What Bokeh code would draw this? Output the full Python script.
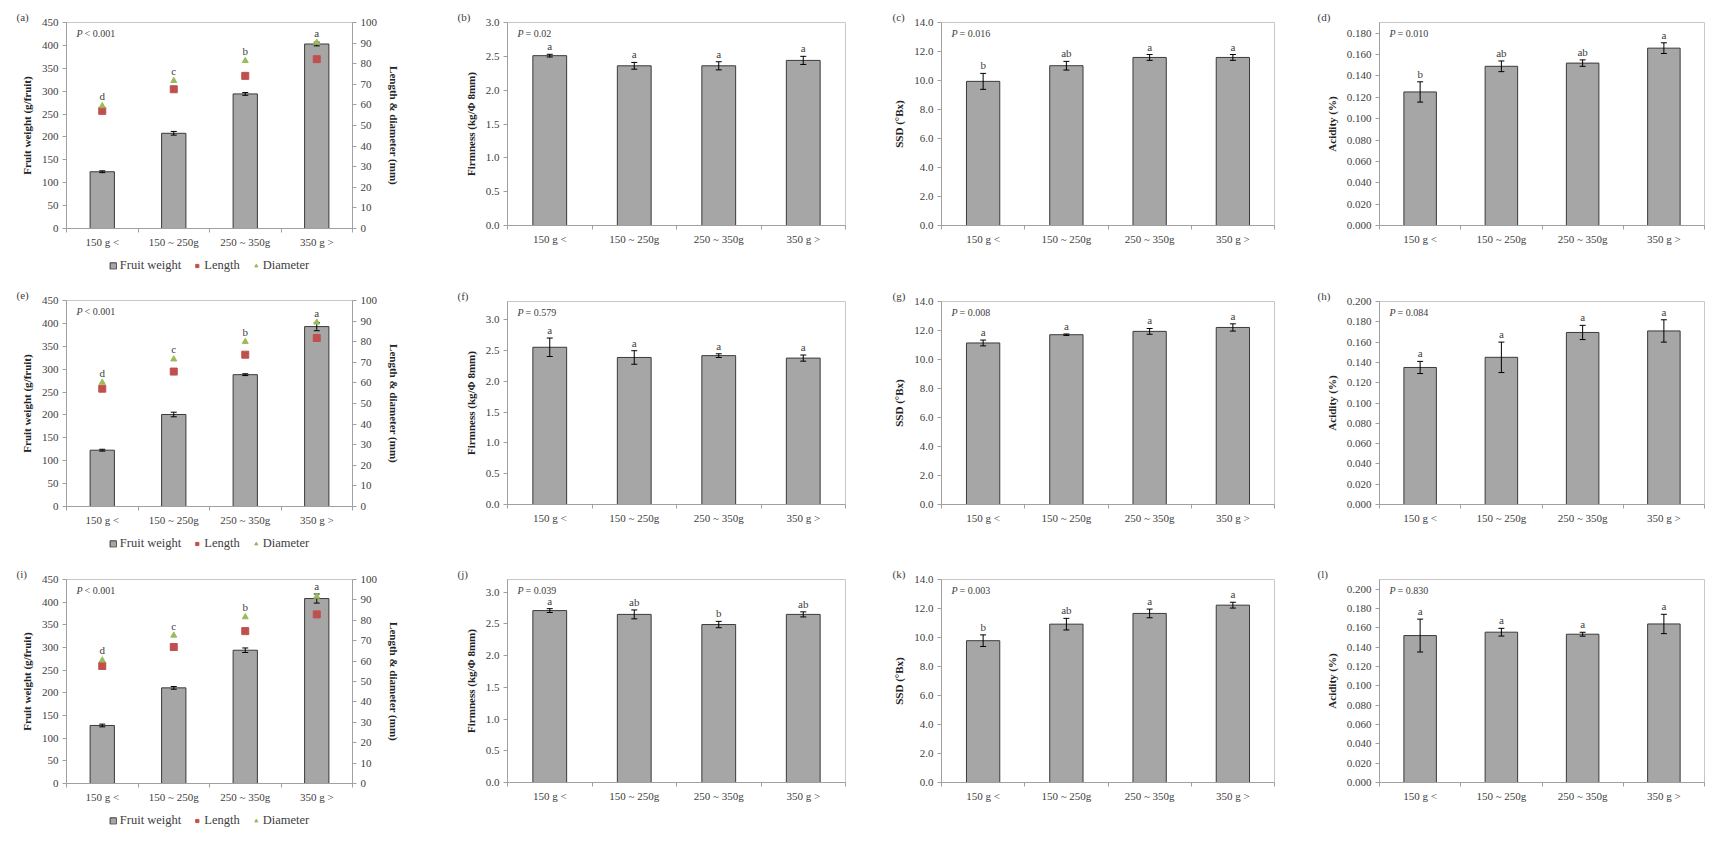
from bokeh.plotting import figure
from bokeh.models import (Range1d, LinearAxis, FixedTicker, Spacer,
                          Legend, LegendItem, NumeralTickFormatter)
from bokeh.layouts import column, row
from bokeh.embed import file_html
from bokeh.resources import INLINE
from bokeh.core.properties import value

FONT = "Liberation Serif"
categories = ["150 g <", "150 ~ 250g", "250 ~ 350g", "350 g >"]
xpos = [1, 2, 3, 4]

# ---- row 1 ----
a_weight = [124, 208, 294, 403]
a_weight_err = [2, 4, 3, 4]
a_length = [57.1, 67.6, 74.1, 82.2]
a_diameter = [59.5, 71.7, 81.4, 90.3]
a_letters = ["d", "c", "b", "a"]

b_firm = [2.51, 2.36, 2.36, 2.44]
b_err = [0.02, 0.05, 0.06, 0.06]
b_letters = ["a", "a", "a", "a"]

c_ssd = [9.94, 11.02, 11.59, 11.59]
c_err = [0.55, 0.30, 0.20, 0.20]
c_letters = ["b", "ab", "a", "a"]

d_acid = [0.125, 0.149, 0.152, 0.166]
d_err = [0.0095, 0.005, 0.003, 0.005]
d_letters = ["b", "ab", "ab", "a"]

# ---- row 2 ----
e_weight = [123, 201, 288, 393]
e_weight_err = [2, 5, 2, 9]
e_length = [57.2, 65.5, 73.7, 81.8]
e_diameter = [60.2, 71.5, 80.0, 89.4]
e_letters = ["d", "c", "b", "a"]

f_firm = [2.556, 2.39, 2.42, 2.38]
f_err = [0.15, 0.11, 0.03, 0.05]
f_letters = ["a", "a", "a", "a"]

g_ssd = [11.14, 11.71, 11.94, 12.21]
g_err = [0.20, 0.05, 0.20, 0.25]
g_letters = ["a", "a", "a", "a"]

h_acid = [0.135, 0.145, 0.1695, 0.171]
h_err = [0.006, 0.015, 0.007, 0.011]
h_letters = ["a", "a", "a", "a"]

# ---- row 3 ----
i_weight = [128, 211, 294, 408]
i_weight_err = [3, 3, 5, 10]
i_length = [57.6, 66.9, 74.7, 82.9]
i_diameter = [60.4, 72.6, 81.6, 91.7]
i_letters = ["d", "c", "b", "a"]

j_firm = [2.71, 2.65, 2.49, 2.65]
j_err = [0.03, 0.07, 0.05, 0.04]
j_letters = ["a", "ab", "b", "ab"]

k_ssd = [9.78, 10.92, 11.66, 12.23]
k_err = [0.40, 0.40, 0.30, 0.20]
k_letters = ["b", "ab", "a", "a"]

l_acid = [0.152, 0.1555, 0.1534, 0.164]
l_err = [0.017, 0.004, 0.002, 0.010]
l_letters = ["a", "a", "a", "a"]

p_values = {"a": "< 0.001", "b": "= 0.02", "c": "= 0.016", "d": "= 0.010",
            "e": "< 0.001", "f": "= 0.579", "g": "= 0.008", "h": "= 0.084",
            "i": "< 0.001", "j": "= 0.039", "k": "= 0.003", "l": "= 0.830"}

# layout geometry (pixels): (frame width, left border, right border)
col_spec = [(286, 66, 76), (338, 66, 26), (333, 70, 17), (325, 88, 5)]
GAP1 = 13
# (top border, frame height, bottom border)
geo = {"a": (22, 206, 26), "b": (22, 203, 58), "c": (22, 203, 58), "d": (22, 203, 58),
       "e": (17, 206, 26), "f": (18, 203, 56), "g": (18, 203, 56), "h": (18, 203, 56),
       "i": (19, 204, 26), "j": (19, 203, 61), "k": (19, 203, 61), "l": (19, 203, 61)}
panel_label_dx = {0: -50, 1: -50, 2: -49, 3: -62}
LEG_H = 22

AXC = "#a0a0a0"
TXT = "#404040"
BAR = "#a6a6a6"
BAR_LINE = "#3a3a3a"
RED = "#c0504d"
GREEN = "#9bbb59"


def style_y(ax):
    ax.axis_line_color = AXC
    ax.major_tick_line_color = AXC
    ax.major_tick_in = 0
    ax.major_tick_out = 4
    ax.minor_tick_line_color = None
    ax.major_label_text_font = FONT
    ax.major_label_text_font_size = "11px"
    ax.major_label_text_color = TXT
    ax.major_label_standoff = 4
    ax.axis_label_text_font = FONT
    ax.axis_label_text_font_style = "bold"
    ax.axis_label_text_font_size = "11px"
    ax.axis_label_text_color = "#222222"


def base(tag, ci, ymax, yticks, fmt, ylabel):
    fw, bl, br = col_spec[ci]
    bt, fh, bb = geo[tag]
    p = figure(frame_width=fw, frame_height=fh, x_range=Range1d(0.5, 4.5),
               y_range=Range1d(0, ymax), output_backend="svg",
               toolbar_location=None, min_border_left=bl, min_border_right=br,
               min_border_top=bt, min_border_bottom=bb)
    p.grid.visible = False
    p.outline_line_color = "#c8c8c8"
    p.outline_line_width = 1
    p.title.text = "(%s)" % tag
    p.title.align = "left"
    p.title.offset = panel_label_dx[ci]
    p.title.standoff = 0
    p.title.text_font = FONT
    p.title.text_font_style = "normal"
    p.title.text_font_size = "11px"
    p.title.text_color = TXT
    xa = p.xaxis[0]
    xa.ticker = FixedTicker(ticks=xpos, minor_ticks=[0.5, 1.5, 2.5, 3.5, 4.5])
    xa.major_label_overrides = {x: c for x, c in zip(xpos, categories)}
    xa.major_tick_line_color = None
    xa.major_tick_in = 0
    xa.major_tick_out = 2
    xa.minor_tick_in = 0
    xa.minor_tick_out = 4
    xa.minor_tick_line_color = AXC
    xa.axis_line_color = AXC
    xa.major_label_text_font = FONT
    xa.major_label_text_font_size = "11px"
    xa.major_label_text_color = TXT
    xa.major_label_standoff = 3
    ya = p.yaxis[0]
    ya.ticker = FixedTicker(ticks=yticks)
    ya.formatter = NumeralTickFormatter(format=fmt)
    style_y(ya)
    ya.axis_label = ylabel
    ya.axis_label_standoff = 6
    p.text(x=[0.5], y=[ymax], text=["P"], x_offset=10, y_offset=11,
           text_font=value(FONT), text_font_style="italic",
           text_font_size="10px", text_color=TXT, text_baseline="middle")
    p.text(x=[0.5], y=[ymax], text=[p_values[tag]], x_offset=18, y_offset=11,
           text_font=value(FONT), text_font_size="10px", text_color=TXT,
           text_baseline="middle")
    return p


def bars_and_err(p, vals, errs, width):
    r = p.vbar(x=xpos, top=vals, width=width, fill_color=BAR,
               line_color=BAR_LINE, line_width=1)
    lo = [v - e for v, e in zip(vals, errs)]
    hi = [v + e for v, e in zip(vals, errs)]
    p.segment(x0=xpos, y0=lo, x1=xpos, y1=hi, line_color="black", line_width=1)
    p.scatter(x=xpos + xpos, y=lo + hi, marker="dash", size=6,
              line_color="black", line_width=1)
    return r


def letters(p, ys, labs):
    p.text(x=xpos, y=ys, text=labs, text_font=value(FONT),
           text_font_size="11px", text_color=TXT, text_align="center",
           text_baseline="bottom", y_offset=-2)


def legend_fig(weight, length, diameter):
    # legend strip below the weight panel; its renderers carry the panel's
    # data but the view window lies outside it, so only the legend shows
    fw, bl, br = col_spec[0]
    lf = figure(width=bl + fw + br, height=LEG_H, output_backend="svg",
                toolbar_location=None, min_border=0,
                x_range=Range1d(100, 101), y_range=Range1d(1000, 1001))
    lf.axis.visible = False
    lf.grid.visible = False
    lf.outline_line_color = None
    rb = lf.vbar(x=xpos, top=weight, width=0.3, fill_color=BAR,
                 line_color=BAR_LINE)
    rl = lf.scatter(x=xpos, y=length, marker="square", size=7,
                    fill_color=RED, line_color=RED)
    rd = lf.scatter(x=xpos, y=diameter, marker="triangle", size=6,
                    fill_color=GREEN, line_color=GREEN)
    leg = Legend(items=[LegendItem(label="Fruit weight", renderers=[rb]),
                        LegendItem(label="Length", renderers=[rl]),
                        LegendItem(label="Diameter", renderers=[rd])],
                 orientation="horizontal", location="center",
                 label_text_font=FONT, label_text_font_size="12.5px",
                 label_text_color=TXT, glyph_width=8, glyph_height=8,
                 label_height=12, label_standoff=3, spacing=12, padding=0,
                 margin=0, border_line_color=None, background_fill_alpha=0)
    lf.add_layout(leg)
    return lf


def weight_panel(tag, weight, werr, length, diameter, labs):
    p = base(tag, 0, 450, list(range(0, 451, 50)), "0",
             "Fruit weight (g/fruit)")
    p.extra_y_ranges = {"r": Range1d(0, 100)}
    ra = LinearAxis(y_range_name="r", ticker=FixedTicker(ticks=list(range(0, 101, 10))),
                    axis_label="Length & diameter (mm)")
    style_y(ra)
    ra.axis_label_standoff = 8
    try:
        ra.axis_label_orientation = "vertical"
    except Exception:
        pass
    p.add_layout(ra, "right")
    bars_and_err(p, weight, werr, 0.34)
    p.scatter(x=xpos, y=length, y_range_name="r", marker="square",
              size=7, fill_color=RED, line_color=RED)
    p.scatter(x=xpos, y=diameter, y_range_name="r", marker="triangle",
              size=6, fill_color=GREEN, line_color=GREEN)
    tops = [max(w + e, d * 4.5 + 4) for w, e, d in zip(weight, werr, diameter)]
    letters(p, tops, labs)
    return column(p, legend_fig(weight, length, diameter))


def simple_panel(tag, ci, vals, errs, labs, ymax, yticks, fmt, ylabel):
    p = base(tag, ci, ymax, yticks, fmt, ylabel)
    bars_and_err(p, vals, errs, 0.4)
    letters(p, [v + e for v, e in zip(vals, errs)], labs)
    return p


FIRM = "Firmness (kg/\u03a6 8mm)"
SSD = "SSD (\u00b0Bx)"
ACID = "Acidity (%)"
t_firm = [0, 0.5, 1.0, 1.5, 2.0, 2.5, 3.0]
t_ssd = [0, 2, 4, 6, 8, 10, 12, 14]
t_acid18 = [0, 0.02, 0.04, 0.06, 0.08, 0.10, 0.12, 0.14, 0.16, 0.18]
t_acid20 = t_acid18 + [0.20]

pa = weight_panel("a", a_weight, a_weight_err, a_length, a_diameter, a_letters)
pb = simple_panel("b", 1, b_firm, b_err, b_letters, 3.0, t_firm, "0.0", FIRM)
pc = simple_panel("c", 2, c_ssd, c_err, c_letters, 14, t_ssd, "0.0", SSD)
pd = simple_panel("d", 3, d_acid, d_err, d_letters, 0.19, t_acid18, "0.000", ACID)

pe = weight_panel("e", e_weight, e_weight_err, e_length, e_diameter, e_letters)
pf = simple_panel("f", 1, f_firm, f_err, f_letters, 3.3, t_firm, "0.0", FIRM)
pg = simple_panel("g", 2, g_ssd, g_err, g_letters, 14, t_ssd, "0.0", SSD)
ph = simple_panel("h", 3, h_acid, h_err, h_letters, 0.2, t_acid20, "0.000", ACID)

pi = weight_panel("i", i_weight, i_weight_err, i_length, i_diameter, i_letters)
pj = simple_panel("j", 1, j_firm, j_err, j_letters, 3.2, t_firm, "0.0", FIRM)
pk = simple_panel("k", 2, k_ssd, k_err, k_letters, 14, t_ssd, "0.0", SSD)
pl = simple_panel("l", 3, l_acid, l_err, l_letters, 0.21, t_acid20, "0.000", ACID)

layout = column(row(pa, Spacer(width=GAP1), pb, pc, pd),
                row(pe, Spacer(width=GAP1), pf, pg, ph),
                row(pi, Spacer(width=GAP1), pj, pk, pl))

with open("out.html", "w") as fh:
    fh.write(file_html(layout, INLINE))
